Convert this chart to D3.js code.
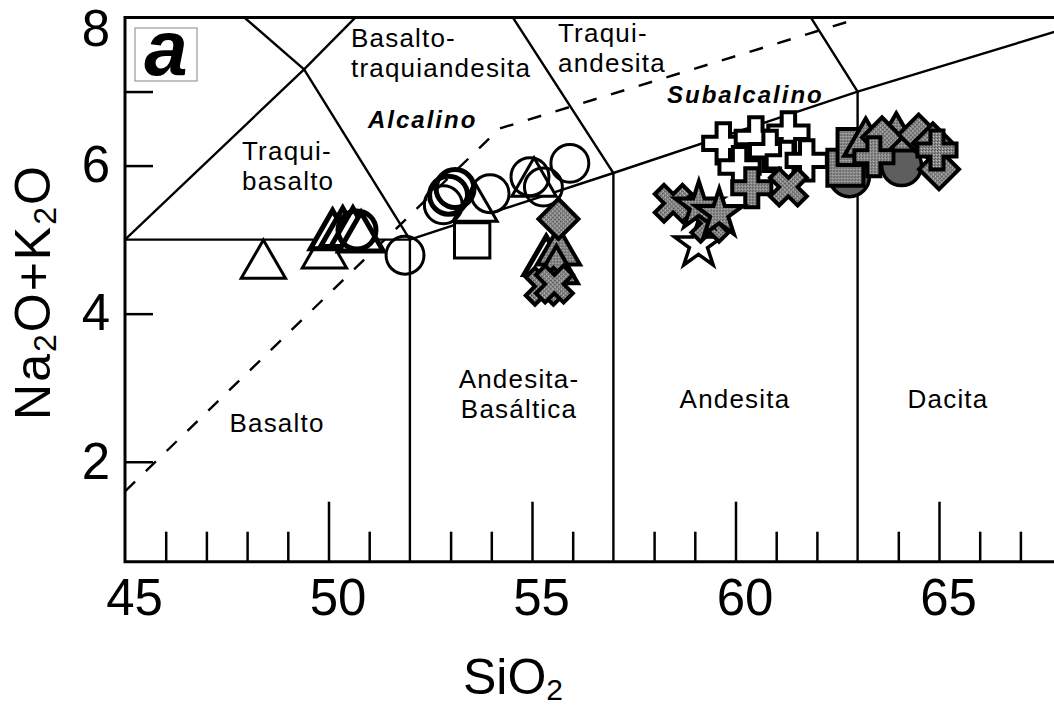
<!DOCTYPE html>
<html><head><meta charset="utf-8">
<script src="https://cdn.jsdelivr.net/npm/d3@7"></script>
<style>
html,body{margin:0;padding:0;background:#fff;}
svg{display:block;font-family:"Liberation Sans",Arial,Helvetica,sans-serif;}
</style></head>
<body>
<svg id="chart" width="1054" height="705"></svg>
<script>
// ---------- data ----------
const xDomain = [45, 70];
const yDomain = [0.65, 8];
const xMinorTicks = [46,47,48,49,51,53,54,56,58,59,61,62,64,66,67,68,69];
const xMajorTicks = [50,55,60,65];
const xTickLabels = [45,50,55,60,65];
const yTicks = [2,4,6,7];
const yTickLabels = [2,4,6,8];

// TAS field boundaries (SiO2, Na2O+K2O)
const fieldLines = [
  [[45,5],[52,5]],
  [[45,5],[49.4,7.3],[52,5]],
  [[49.4,7.3],[45,9.4]],
  [[49.4,7.3],[53,9.3]],
  [[52,0.65],[52,5],[57,5.9],[63,7],[69,8]],
  [[57,0.65],[57,5.9],[53,9.3]],
  [[63,0.65],[63,7],[57.6,11.7]]
];
const alkalineDivide = [[45,1.6],[54.2,6.5],[63.1,8.0],[70,9.2]];

const fieldLabels = [
  {lines:["Traqui-","basalto"], x:242, y:160, anchor:"start"},
  {lines:["Basalto-","traquiandesita"], x:351, y:47, anchor:"start"},
  {lines:["Traqui-","andesita"], x:558, y:42, anchor:"start"},
  {lines:["Basalto"], x:277, y:432, anchor:"middle"},
  {lines:["Andesita-","Basáltica"], x:519, y:388, anchor:"middle"},
  {lines:["Andesita"], x:735, y:408, anchor:"middle"},
  {lines:["Dacita"], x:948, y:408, anchor:"middle"}
];
const seriesLabels = [
  {text:"Alcalino", x:368, y:128},
  {text:"Subalcalino", x:667, y:103}
];

// sample groups
const openTriangles = [[48.4,4.65],[49.9,4.79],[53.6,5.42],[55.05,5.76]];
const boldTriangles = [[50.1,5.05],[50.35,5.08],[50.6,5.08],[50.8,5.02],[55.35,4.7]];
const openCircles = [[51.88,4.79],[52.82,5.47],[53.97,5.62],[54.95,5.85],[55.28,5.71],[55.93,6.03]];
const boldCircles = [[50.7,5.13],[53.11,5.69],[52.95,5.6]];
const openSquares = [[53.53,4.99]];
const openPluses = [[59.7,6.3],[60.5,6.38],[61.3,6.45],[60.85,6.2],[60.1,5.98],[61.26,6.05],[61.75,6.07]];
const openStars = [[59.09,4.93]];
const grayXs = [[58.47,5.49],[59.37,5.22],[61.3,5.71],[55.3,4.37],[55.55,4.4]];
const grayStars = [[59.1,5.45],[59.6,5.35]];
const grayPluses = [[60.4,5.7],[63.4,6.12],[64.95,6.21]];
const grayDiamonds = [[55.65,5.28],[63.6,6.38],[64.5,6.42],[64.85,6.3],[65.0,5.95]];
const grayTriangles = [[55.65,4.83],[55.6,4.58],[63.95,6.37],[63.2,6.3]];
const graySquares = [[62.7,5.97],[62.95,6.25]];
const grayCircles = [[62.8,5.85],[64.08,6.0]];

// ---------- drawing ----------
const svg = d3.select("#chart");
const x = d3.scaleLinear().domain(xDomain).range([125, 125 + 25*40.7]);
const y = d3.scaleLinear().domain(yDomain).range([561.7, 17.5]);
const W = 1054;

const defs = svg.append("defs");
defs.append("clipPath").attr("id","plotclip")
  .append("rect").attr("x", x(45)).attr("y", y(8)).attr("width", x(70)-x(45)).attr("height", y(0.65)-y(8));
// stippled gray fill
const pat = defs.append("pattern").attr("id","stipple").attr("width",3).attr("height",3)
  .attr("patternUnits","userSpaceOnUse");
pat.append("rect").attr("width",3).attr("height",3).attr("fill","#8a8a8a");
pat.append("rect").attr("x",0).attr("y",0).attr("width",1).attr("height",1).attr("fill","#4a4a4a");
pat.append("rect").attr("x",2).attr("y",1).attr("width",1).attr("height",1).attr("fill","#c4c4c4");
pat.append("rect").attr("x",1).attr("y",2).attr("width",1).attr("height",1).attr("fill","#5a5a5a");

const line = d3.line().x(d => x(d[0])).y(d => y(d[1]));
const plot = svg.append("g").attr("clip-path","url(#plotclip)");

// minor & major ticks (inward)
const gx = svg.append("g").attr("transform",`translate(0,${y(0.65)})`);
gx.append("g").call(d3.axisBottom(x).tickValues(xMinorTicks).tickSize(-30).tickSizeOuter(0).tickFormat(""))
  .call(g => g.select(".domain").remove())
  .call(g => g.selectAll("line").attr("stroke","#000").attr("stroke-width",2.5));
gx.append("g").call(d3.axisBottom(x).tickValues(xMajorTicks).tickSize(-60).tickSizeOuter(0).tickFormat(""))
  .call(g => g.select(".domain").remove())
  .call(g => g.selectAll("line").attr("stroke","#000").attr("stroke-width",2.5));
gx.append("g").call(d3.axisBottom(x).tickValues(xTickLabels).tickSize(0).tickPadding(17).tickFormat(d3.format("d")))
  .call(g => g.select(".domain").remove())
  .call(g => g.selectAll("text").attr("font-size",51).attr("fill","#000")
     .attr("font-family","Liberation Sans, Arial, sans-serif").attr("x",9));

const gy = svg.append("g").attr("transform",`translate(${x(45)},0)`);
gy.append("g").call(d3.axisLeft(y).tickValues(yTicks).tickSize(-28).tickSizeOuter(0).tickFormat(""))
  .call(g => g.select(".domain").remove())
  .call(g => g.selectAll("line").attr("stroke","#000").attr("stroke-width",2.5));
gy.append("g").call(d3.axisLeft(y).tickValues(yTickLabels).tickSize(0).tickPadding(15).tickFormat(d3.format("d")))
  .call(g => g.select(".domain").remove())
  .call(g => g.selectAll("text").attr("font-size",51).attr("fill","#000")
     .attr("font-family","Liberation Sans, Arial, sans-serif")
     .attr("y", d => d === 8 ? 12 : 0));

// field boundaries
plot.selectAll("path.field").data(fieldLines).join("path").attr("class","field")
  .attr("d", line).attr("fill","none").attr("stroke","#000").attr("stroke-width",2.4);
plot.append("path").datum(alkalineDivide).attr("d", line)
  .attr("fill","none").attr("stroke","#000").attr("stroke-width",2.4).attr("stroke-dasharray","14,15");

// frame
svg.append("path")
  .attr("d", `M${W+5},${y(8)}H${x(45)}V${y(0.65)}H${W+5}`)
  .attr("fill","none").attr("stroke","#000").attr("stroke-width",3);

// field labels
fieldLabels.forEach(f => {
  const t = svg.append("text").attr("font-size",26).attr("letter-spacing",1.2)
    .attr("text-anchor", f.anchor).attr("fill","#000");
  f.lines.forEach((s,i) => t.append("tspan").attr("x", f.x).attr("y", f.y + i*30).text(s));
});
seriesLabels.forEach(s => {
  svg.append("text").attr("x", s.x).attr("y", s.y).attr("font-size",24)
    .attr("font-weight","bold").attr("font-style","italic").attr("letter-spacing",2)
    .attr("fill","#000").text(s.text);
});

// symbols
const sym = (type, size) => d3.symbol().type(type).size(size)();
function drawSeries(data, type, size, fill, stroke, sw, rot) {
  svg.append("g").selectAll("path").data(data).join("path")
    .attr("d", sym(type, size))
    .attr("transform", d => `translate(${x(d[0])},${y(d[1])})` + (rot ? ` rotate(${rot})` : ""))
    .attr("fill", fill).attr("stroke", stroke).attr("stroke-width", sw).attr("stroke-linejoin","miter");
}
const gray = "url(#stipple)";
drawSeries(openTriangles, d3.symbolTriangle, 850, "#fff", "#000", 3);
drawSeries(boldTriangles, d3.symbolTriangle, 850, "#fff", "#000", 5);
drawSeries(openCircles, d3.symbolCircle, 1130, "none", "#000", 3);
drawSeries(boldCircles, d3.symbolCircle, 1130, "none", "#000", 5);
drawSeries(openSquares, d3.symbolSquare, 1250, "#fff", "#000", 3);
drawSeries(openPluses, d3.symbolCross, 900, "#fff", "#000", 4);
drawSeries(openStars, d3.symbolStar, 700, "#fff", "#000", 3.5);
drawSeries(grayCircles, d3.symbolCircle, 1250, "#5e5e5e", "#000", 3.5);
drawSeries(graySquares, d3.symbolSquare, 1300, gray, "#000", 4);
drawSeries(grayTriangles, d3.symbolTriangle, 800, gray, "#000", 4);
drawSeries(grayDiamonds, d3.symbolSquare, 800, gray, "#000", 4, 45);
drawSeries(grayPluses, d3.symbolCross, 850, gray, "#000", 4);
drawSeries(grayXs, d3.symbolCross, 850, gray, "#000", 4, 45);
drawSeries(grayStars, d3.symbolStar, 700, gray, "#000", 4);

// panel label
svg.append("rect").attr("x",135).attr("y",28).attr("width",62).attr("height",53)
  .attr("fill","#fff").attr("stroke","#999").attr("stroke-width",1.2);
svg.append("text").attr("x",166).attr("y",75).attr("text-anchor","middle")
  .attr("font-size",78).attr("font-weight","bold").attr("font-style","italic").attr("fill","#000").text("a");

// axis titles
const xt = svg.append("text").attr("x",513).attr("y",694).attr("text-anchor","middle")
  .attr("font-size",50).attr("fill","#000");
xt.append("tspan").text("SiO");
xt.append("tspan").attr("font-size",30).attr("dy",6).text("2");

const yt = svg.append("text").attr("transform","translate(50,292) rotate(-90)")
  .attr("text-anchor","middle").attr("font-size",50).attr("fill","#000").attr("letter-spacing",2);
yt.append("tspan").text("Na");
yt.append("tspan").attr("font-size",32).attr("dy",6).text("2");
yt.append("tspan").attr("dy",-6).text("O+K");
yt.append("tspan").attr("font-size",32).attr("dy",6).text("2");
yt.append("tspan").attr("dy",-6).text("O");
</script>
</body></html>
